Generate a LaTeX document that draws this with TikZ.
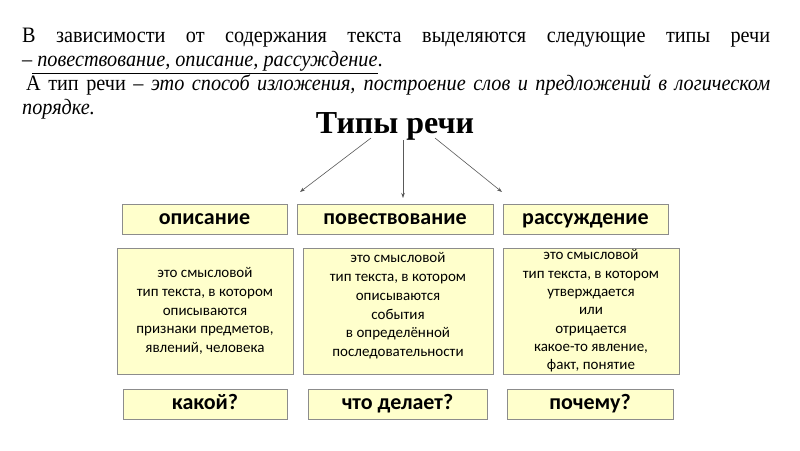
\documentclass[tikz,border=0pt]{standalone}
\usepackage{fontspec}
\setmainfont{Liberation Serif}[FakeStretch=0.92]
\newfontfamily\titlefont{Liberation Serif}
\newfontfamily\boxfont{Carlito}
\usetikzlibrary{arrows.meta}
\definecolor{boxfill}{HTML}{FFFFCC}
\definecolor{boxline}{HTML}{8C8C8C}
\newcommand{\introfs}{\fontsize{22}{24}\selectfont}

\begin{document}
\begin{tikzpicture}[x=1pt, y=-1pt,
    typebox/.style={draw=boxline, fill=boxfill, line width=0.8pt, minimum height=30pt,
      inner sep=0pt, text height=15pt, text depth=4pt,
      font=\boxfont\bfseries\fontsize{22}{24}\selectfont},
    descbox/.style={draw=boxline, fill=boxfill, line width=0.8pt, minimum height=126pt,
      inner sep=0pt, align=center, font=\boxfont\fontsize{15}{18.7}\selectfont},
    arr/.style={draw=black!65, line width=0.6pt, -{Stealth[length=5pt, width=3.5pt]}}]
  \useasboundingbox[fill=white] (0,0) rectangle (800,450);
  % intro text
  \node[anchor=north west, inner sep=0pt, text width=748pt, align=justify, font=\introfs] (intro) at (22,28)
    {В зависимости от содержания текста выделяются следующие типы речи\linebreak
     –\underline{\textit{ повествование, описание, рассуждение}}.\par
     \hspace*{4pt}А тип речи – \textit{это способ изложения, построение слов и предложений в логическом\linebreak
     порядке.}};
  \node[font=\titlefont\bfseries\fontsize{32}{36}\selectfont, inner sep=0pt] (title) at (395,126) {Типы речи};
  % types
  \node[typebox, minimum width=165pt] (opis) at (204.5,219) {описание};
  \node[typebox, minimum width=196pt] (povest) at (395,219) {повествование};
  \node[typebox, minimum width=165pt] (rassuzh) at (585.5,219) {рассуждение};
  % arrows
  \coordinate (s1) at (371,138);
  \coordinate (s2) at (403,140);
  \coordinate (s3) at (435,138);
  \coordinate (e1) at (300,192);
  \coordinate (e2) at (403,198);
  \coordinate (e3) at (502,192);
  \foreach \i\j in {s1/e1, s2/e2, s3/e3} {
    \draw[arr] (\i) -- (\j);
  }
  % descriptions
  \node[descbox, minimum width=176pt] (dopis) at (205,311)
    {это смысловой\\тип текста, в котором\\описываются\\признаки предметов,\\явлений, человека};
  \node[descbox, minimum width=190pt] (dpovest) at (398,311)
    {это смысловой\\тип текста, в котором\\описываются\\события\\в определённой\\последовательности\\[-6pt]~};
  \node[descbox, minimum width=176pt, font=\boxfont\fontsize{15}{18.3}\selectfont] (drassuzh) at (591,311)
    {это смысловой\\тип текста, в котором\\утверждается\\или\\отрицается\\какое-то явление,\\факт, понятие};
  % questions
  \node[typebox, minimum width=164pt] (qopis) at (205,404) {какой?};
  \node[typebox, minimum width=179pt] (qpovest) at (397.5,404) {что делает?};
  \node[typebox, minimum width=166pt] (qrassuzh) at (590,404) {почему?};
\end{tikzpicture}
\end{document}
